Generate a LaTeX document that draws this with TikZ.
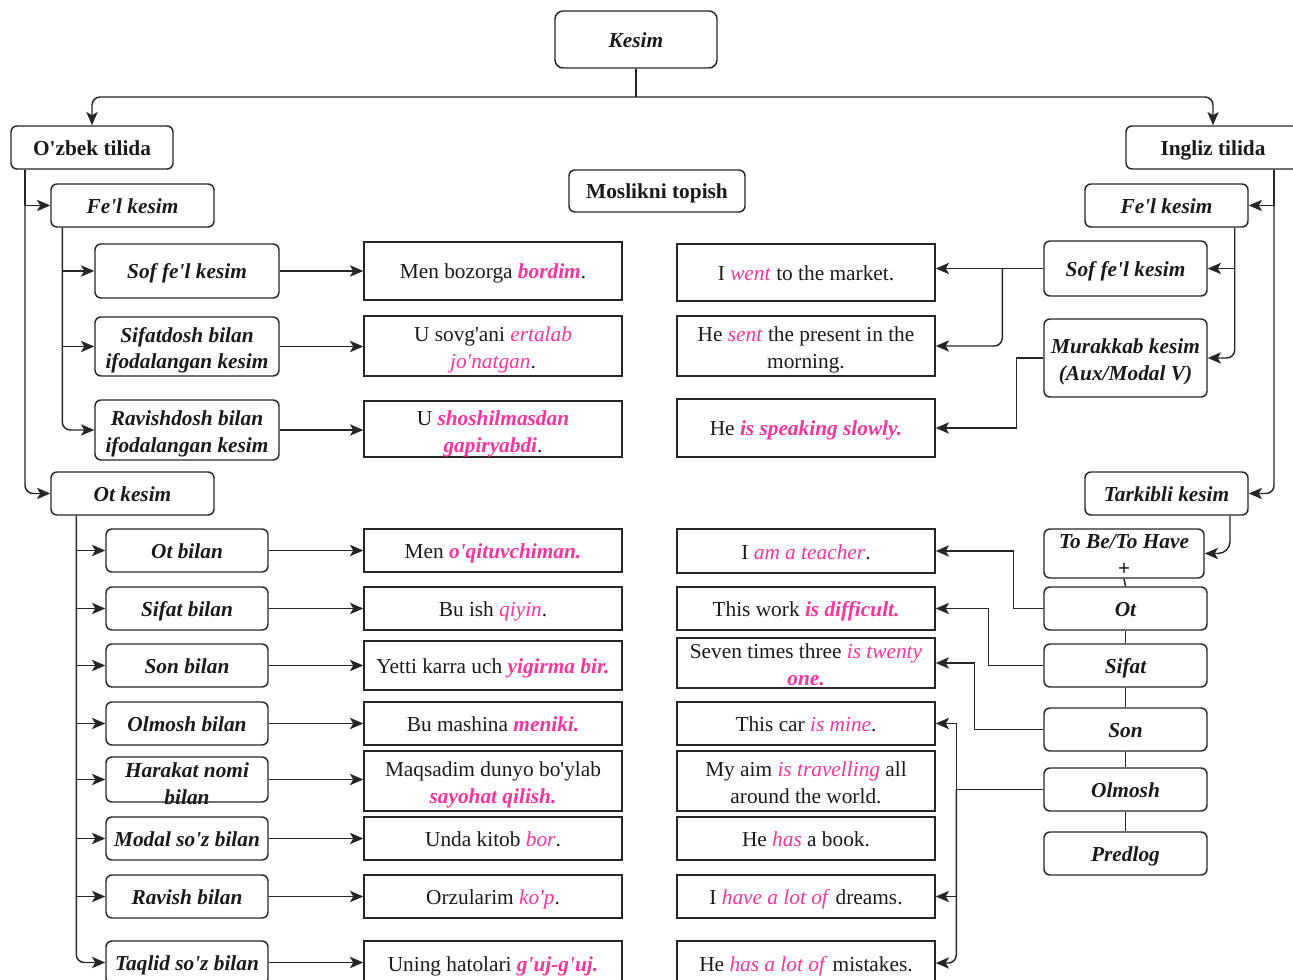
\documentclass[tikz,border=0pt]{standalone}
\usepackage{fontspec}
\setmainfont{Liberation Serif}[Ligatures=TeXOff]
\usetikzlibrary{arrows.meta,calc}
\definecolor{pk}{HTML}{FF3399}
\definecolor{ln}{HTML}{262626}
\definecolor{tx}{HTML}{1A1A1A}
\newcommand\pkb[1]{\textcolor{pk}{\textbf{\textit{#1}}}}
\newcommand\pki[1]{\textcolor{pk}{\textit{#1}}}
\newcommand\ml[2][-7pt]{\smash{\raisebox{#1}{\begin{tabular}{@{}c@{}}#2\end{tabular}}}}
\begin{document}
\begin{tikzpicture}[x=0.75pt,y=-0.75pt,
  font=\fontsize{16}{20}\selectfont,
  wh/.style 2 args={minimum width=#1*0.75pt, minimum height=#2*0.75pt},
  rb/.style={draw=ln, text=tx, line width=1.1pt, rounded corners=4.5pt, inner sep=0pt,
    font=\fontsize{16}{20}\selectfont\bfseries\itshape, text height=15pt, text depth=3pt},
  ub/.style={rb, font=\fontsize{16}{20}\selectfont\bfseries},
  sb/.style={draw=ln, text=tx, line width=1.1pt, inner sep=0pt, text height=15pt, text depth=3pt},
  mlt/.style={text height=0pt, text depth=0pt},
  con/.style={draw=ln, line width=1.1pt},
  arr/.style={con, -{Stealth[length=10pt,width=8.5pt,inset=2.5pt]}},
  rc/.style={rounded corners=6pt}]
\useasboundingbox (0,0) rectangle (1293,980);

% top
\node[rb, wh={162}{57}, rounded corners=6pt] (kesim) at (636,39.5) {Kesim};
\node[ub, wh={162}{43}] (uzb) at (92,147.5) {O'zbek tilida};
\node[ub, wh={174}{43}] (eng) at (1213,147.5) {Ingliz tilida};
\node[ub, wh={176}{42}] (mos) at (657,191) {Moslikni topish};
\coordinate (hub) at (636,97);
\draw[con] (kesim.south) -- (hub);
\draw[arr, rc] (hub) -| (uzb.north);
\draw[arr, rc] (hub) -| (eng.north);

% left level 2
\node[rb, wh={163}{43}] (lfel) at (132.5,205.5) {Fe'l kesim};
\node[rb, wh={163}{43}] (lot) at (132.5,493.5) {Ot kesim};
\draw[arr] ($(uzb.south)+(-67,0)$) |- (lfel.west);
\draw[arr, rc] ($(uzb.south)+(-67,0)$) |- (lot.west);

% left fe'l children
\node[rb, wh={184}{54}] (lsof) at (187,271) {Sof fe'l kesim};
\node[rb, mlt, wh={184}{59}] (lsif) at (187,346.5) {\ml{Sifatdosh bilan\\ifodalangan kesim}};
\node[rb, mlt, wh={184}{60}] (lrav) at (187,430) {\ml{Ravishdosh bilan\\ifodalangan kesim}};
\draw[arr] ($(lfel.south west)+(12,0)$) |- (lsof.west);
\draw[arr] ($(lfel.south west)+(12,0)$) |- (lsif.west);
\draw[arr, rc] ($(lfel.south west)+(12,0)$) |- (lrav.west);

\node[sb, wh={258}{58}] (ls1) at (493,271) {Men bozorga \pkb{bordim}.};
\node[sb, mlt, wh={258}{60}] (ls2) at (493,346) {\ml{U sovg'ani \pki{ertalab}\\\pki{jo'natgan}.}};
\node[sb, mlt, wh={258}{56}] (ls3) at (493,429) {\ml[-8pt]{U \pkb{shoshilmasdan}\\\pkb{gapiryabdi}.}};
\draw[arr] (lsof.east) -- (lsof.east -| ls1.west);
\draw[arr] (lsif.east) -- (lsif.east -| ls2.west);
\draw[arr] (lrav.east) -- (lrav.east -| ls3.west);

% left ot children
\node[rb, wh={162}{43}] (lc1) at (187,550.5) {Ot bilan};
\node[rb, wh={162}{43}] (lc2) at (187,608.5) {Sifat bilan};
\node[rb, wh={162}{43}] (lc3) at (187,665.5) {Son bilan};
\node[rb, wh={162}{43}] (lc4) at (187,723.5) {Olmosh bilan};
\node[rb, mlt, wh={162}{45}] (lc5) at (187,779.5) {\ml[-9pt]{Harakat nomi\\bilan}};
\node[rb, wh={162}{43}] (lc6) at (187,838.5) {Modal so'z bilan};
\node[rb, wh={162}{43}] (lc7) at (187,896.5) {Ravish bilan};
\node[rb, wh={162}{43}] (lc8) at (187,962.5) {Taqlid so'z bilan};
\foreach \i in {1,...,7}{
  \draw[arr] ($(lot.south west)+(26,0)$) |- (lc\i.west);
}
\draw[arr, rc] ($(lot.south west)+(26,0)$) |- (lc8.west);

\node[sb, wh={258}{43}] (lt1) at (493,550.5) {Men \pkb{o'qituvchiman.}};
\node[sb, wh={258}{43}] (lt2) at (493,608.5) {Bu ish \pki{qiyin}.};
\node[sb, wh={258}{49}] (lt3) at (493,665.5) {Yetti karra uch \pkb{yigirma bir.}};
\node[sb, wh={258}{43}] (lt4) at (493,723.5) {Bu mashina \pkb{meniki.}};
\node[sb, mlt, wh={258}{60}] (lt5) at (493,781) {\ml{Maqsadim dunyo bo'ylab\\\pkb{sayohat qilish.}}};
\node[sb, wh={258}{43}] (lt6) at (493,838.5) {Unda kitob \pki{bor}.};
\node[sb, wh={258}{43}] (lt7) at (493,896.5) {Orzularim \pki{ko'p}.};
\node[sb, wh={258}{44}] (lt8) at (493,963) {Uning hatolari \pkb{g'uj-g'uj.}};
\foreach \i in {1,...,8}{
  \draw[arr] (lc\i.east) -- (lc\i.east -| lt\i.west);
}

% right sentences
\node[sb, wh={258}{57}] (r1) at (806,272.5) {I \pki{went} to the market.};
\node[sb, mlt, wh={258}{60}] (r2) at (806,346) {\ml{He \pki{sent} the present in the\\morning.}};
\node[sb, wh={258}{58}] (r3) at (806,428) {He \pkb{is speaking slowly.}};
\node[sb, wh={258}{44}] (rt1) at (806,551) {I \pki{am a teacher}.};
\node[sb, wh={258}{43}] (rt2) at (806,608.5) {This work \pkb{is difficult.}};
\node[sb, mlt, wh={258}{50}] (rt3) at (806,663) {\ml{Seven times three \pki{is twenty}\\\pkb{one.}}};
\node[sb, wh={258}{43}] (rt4) at (806,723.5) {This car \pki{is mine}.};
\node[sb, mlt, wh={258}{60}] (rt5) at (806,781) {\ml{My aim \pki{is travelling} all\\around the world.}};
\node[sb, wh={258}{43}] (rt6) at (806,838.5) {He \pki{has} a book.};
\node[sb, wh={258}{43}] (rt7) at (806,896.5) {I \pki{have a lot of} dreams.};
\node[sb, wh={258}{44}] (rt8) at (806,963) {He \pki{has a lot of} mistakes.};

% right hierarchy
\node[rb, wh={163}{43}] (rfel) at (1166.5,205.5) {Fe'l kesim};
\node[rb, wh={163}{43}] (rtar) at (1166.5,493.5) {Tarkibli kesim};
\draw[arr] ($(eng.south)+(61,0)$) |- (rfel.east);
\draw[arr, rc] ($(eng.south)+(61,0)$) |- (rtar.east);

\node[rb, wh={163}{55}] (rsof) at (1125.5,268.5) {Sof fe'l kesim};
\node[rb, mlt, wh={163}{78}] (rmur) at (1125.5,358) {\ml{Murakkab kesim\\(Aux/Modal V)}};
\draw[arr] ($(rfel.south east)+(-14,0)$) |- (rsof.east);
\draw[arr, rc] ($(rfel.south east)+(-14,0)$) |- (rmur.east);

\draw[arr] (rsof.west) -- (rsof.west -| r1.east);
\draw[arr, rc] ($(rsof.west)+(-41,0)$) |- (r2.east);
\draw[arr] (rmur.west) -- ++(-27,0) |- (r3.east);

\node[rb, mlt, wh={160}{49}] (rtobe) at (1124,553.5) {\ml[-6.5pt]{To Be/To Have\\+}};
\node[rb, wh={163}{43}] (rot) at (1125.5,608.5) {Ot};
\node[rb, wh={163}{43}] (rsifat) at (1125.5,665.5) {Sifat};
\node[rb, wh={163}{43}] (rson) at (1125.5,729.5) {Son};
\node[rb, wh={163}{43}] (rolm) at (1125.5,789.5) {Olmosh};
\node[rb, wh={163}{43}] (rpre) at (1125.5,853.5) {Predlog};
\draw[arr, rounded corners=9pt] ($(rtar.south)+(63.5,0)$) |- (rtobe.east);
\draw[con] (rtobe.south) -- (rot.north);
\draw[con] (rot.south) -- (rsifat.north);
\draw[con] (rsifat.south) -- (rson.north);
\draw[con] (rson.south) -- (rolm.north);
\draw[con] (rolm.south) -- (rpre.north);

\draw[arr] (rot.west) -- ++(-30,0) |- (rt1.east);
\draw[arr] (rsifat.west) -- ++(-55,0) |- (rt2.east);
\draw[arr] (rson.west) -- ++(-69,0) |- (rt3.east);
\draw[con] (rolm.west) -- ++(-87,0) coordinate (oj);
\draw[arr] (oj) |- (rt4.east);
\draw[arr] (oj) |- (rt7.east);
\draw[arr, rc] (oj) |- (rt8.east);
\end{tikzpicture}
\end{document}
